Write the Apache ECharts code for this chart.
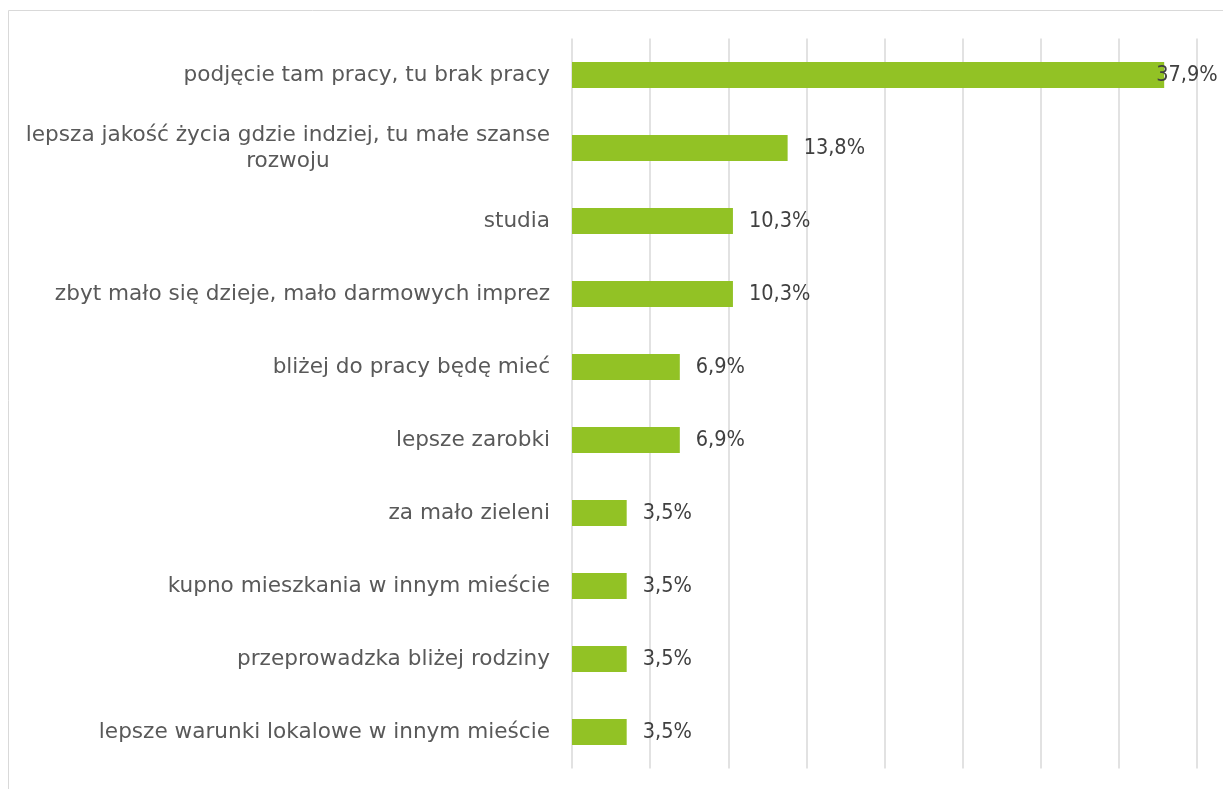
<!DOCTYPE html>
<html><head><meta charset="utf-8">
<script src="https://cdn.jsdelivr.net/npm/echarts@6/dist/echarts.min.js"></script>
<style>html,body{margin:0;padding:0;background:#fff}#c{width:1223px;height:789px}</style>
</head><body><div id="c"></div>
<script>
const categories = [
  "podjęcie tam pracy, tu brak pracy",
  "lepsza jakość życia gdzie indziej, tu małe szanse\nrozwoju",
  "studia",
  "zbyt mało się dzieje, mało darmowych imprez",
  "bliżej do pracy będę mieć",
  "lepsze zarobki",
  "za mało zieleni",
  "kupno mieszkania w innym mieście",
  "przeprowadzka bliżej rodziny",
  "lepsze warunki lokalowe w innym mieście"
];
const values = [37.9, 13.8, 10.3, 10.3, 6.9, 6.9, 3.5, 3.5, 3.5, 3.5];
const axisMax = 40;
const axisStep = 5;

const CAT_FONT = '"DejaVu Sans", sans-serif';
const VAL_FONT = '"DejaVu Sans Condensed", "DejaVu Sans", sans-serif';
const chart = echarts.init(document.getElementById('c'), null, {renderer: 'canvas'});
const seriesData = values.map((v, i) => {
  const item = {value: v};
  if (i === 0) item.label = {distance: -8};
  return item;
});
chart.setOption({
  animation: false,
  graphic: [{type: 'rect', shape: {x: 8.5, y: 10.5, width: 1300, height: 900}, style: {fill: 'none', stroke: '#d9d9d9', lineWidth: 1}, silent: true}],
  grid: {left: 572, right: 26, top: 38.5, bottom: 20.5, containLabel: false},
  xAxis: {
    type: 'value', min: 0, max: axisMax, interval: axisStep,
    axisLabel: {show: false}, axisLine: {show: false}, axisTick: {show: false},
    splitLine: {show: true, lineStyle: {color: '#d9d9d9', width: 1.5}}
  },
  yAxis: {
    type: 'category', inverse: true, data: categories,
    axisLine: {show: false}, axisTick: {show: false},
    axisLabel: {
      margin: 22, color: '#595959', fontFamily: CAT_FONT, fontSize: 21.6,
      formatter: function (s) {
        return s.split('\n').map(l => '{c|' + l + '}').join('\n');
      },
      rich: {c: {align: 'center', color: '#595959', fontFamily: CAT_FONT, fontSize: 21.6, lineHeight: 26}}
    }
  },
  series: [{
    type: 'bar', data: seriesData, barWidth: 26,
    itemStyle: {color: '#92c225'},
    label: {
      show: true, position: 'right', distance: 16, color: '#404040',
      fontFamily: VAL_FONT, fontSize: 21.5,
      formatter: p => p.value.toFixed(1).replace('.', ',') + '%'
    }
  }]
});
</script></body></html>
